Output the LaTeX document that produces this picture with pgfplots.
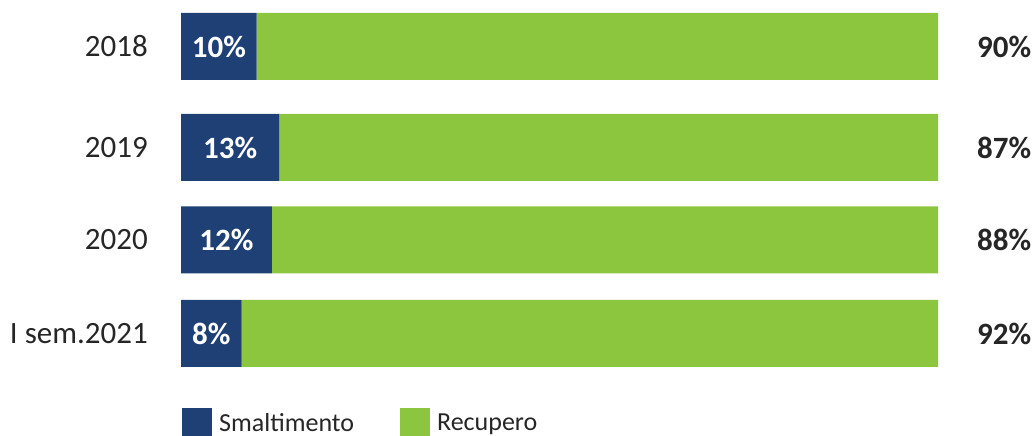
\documentclass[border=0pt]{standalone}
\usepackage{pgfplots}
\pgfplotsset{compat=1.18}
\usepackage{fontspec}
\setmainfont{Carlito}
\definecolor{smalt}{RGB}{31,64,117}
\definecolor{recup}{RGB}{140,198,63}
\begin{document}
\begin{tikzpicture}
\useasboundingbox (0,0) rectangle (1035bp,436bp);
\begin{axis}[
  at={(181bp,0bp)}, anchor=south west,
  scale only axis, width=757bp, height=436bp,
  xmin=0, xmax=100, ymin=0, ymax=436,
  xbar stacked, bar width=67,
  axis line style={draw=none}, major tick length=0pt,
  xtick=\empty,
  ytick={389.5,288.5,196,102.5},
  yticklabels={2018,2019,2020,I sem.2021},
  yticklabel style={font=\fontsize{31bp}{36bp}\selectfont, color=black!85, anchor=east, inner sep=0pt, xshift=-33bp},
  clip=false,
  point meta=explicit symbolic,
  legend columns=2,
  legend style={draw=none, fill=none, at={(0,0)}, anchor=south west, xshift=1bp, yshift=-2bp,
    inner sep=0pt, font=\fontsize{26bp}{30bp}\selectfont, text=black!85,
    /tikz/every odd column/.append style={column sep=5bp},
    /tikz/every even column/.append style={column sep=44bp}},
  legend image code/.code={\fill[#1] (0bp,-15bp) rectangle (30bp,15bp);},
]
% stacked labels sit in the middle of each segment
\addplot[fill=smalt, draw=none,
  nodes near coords,
  every node near coord/.style={anchor=center, text=white,
    font=\bfseries\fontsize{31bp}{36bp}\selectfont}]
  coordinates {(10,389.5) [10\%] (13,288.5) [13\%] (12,196) [12\%] (8,102.5) [8\%]};
\addplot[fill=recup, draw=none,
  visualization depends on=rawx \as \rawx,
  nodes near coords,
  every node near coord/.style={anchor=west, xshift=39bp+\rawx*3.785bp, inner sep=0pt, text=black!85,
    font=\bfseries\fontsize{31bp}{36bp}\selectfont}]
  coordinates {(90,389.5) [90\%] (87,288.5) [87\%] (88,196) [88\%] (92,102.5) [92\%]};
\legend{Smaltimento, Recupero}
\end{axis}
\end{tikzpicture}
\end{document}
